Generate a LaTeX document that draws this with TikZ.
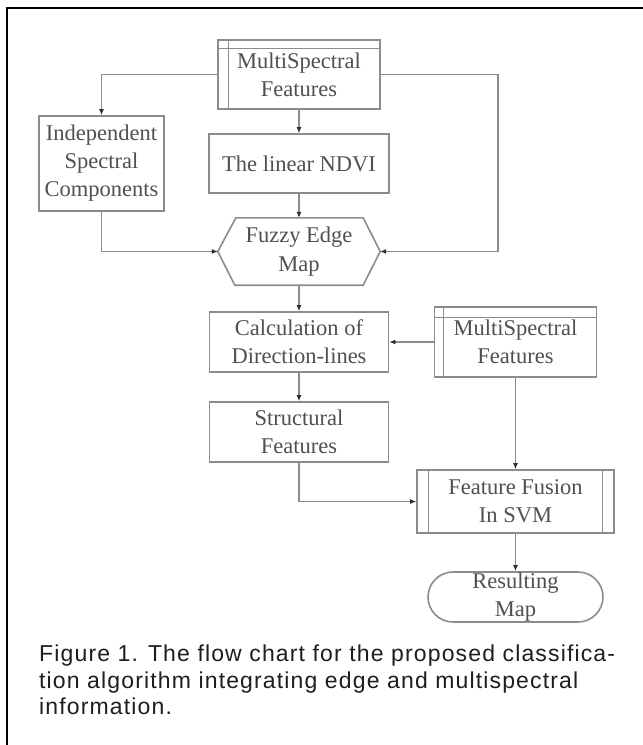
\documentclass[tikz,border=0pt]{standalone}
\usepackage{fontspec}
\setmainfont{Liberation Serif}
\newfontfamily\capfont[LetterSpace=5]{Liberation Sans}
\usetikzlibrary{arrows.meta}
\definecolor{lineC}{RGB}{140,140,140}
\definecolor{txtC}{RGB}{80,80,80}
\definecolor{tipC}{RGB}{45,45,45}
\definecolor{capC}{RGB}{30,30,30}
\begin{document}
\begin{tikzpicture}[x=1pt,y=-1pt,
  box/.style={draw=lineC, line width=1.6pt, fill=white, inner sep=0pt, align=center, text=txtC, font=\fontsize{22.5}{28}\selectfont},
  txtonly/.style={inner sep=0pt, align=center, text=txtC, font=\fontsize{22.5}{28.5}\selectfont},
  strip/.style={draw=lineC, line width=1.3pt},
  conn/.style={draw=lineC, line width=1.3pt},
  arr/.style={conn, -{Latex[length=6pt,width=5pt,color=tipC]}},
  capline/.style={anchor=base west, inner sep=0pt, text=capC, font=\capfont\fontsize{23}{26}\selectfont},
]
\useasboundingbox (0,0) rectangle (643,745);
\fill[white] (0,0) rectangle (643,745);
% frame
\draw[line width=1.6pt, black] (7,745) -- (7,8) -- (643,8);

% nodes
\node[box, minimum width=162pt, minimum height=69pt] (ms1) at (299,74.5) {MultiSpectral\\Features};
\draw[strip] ([yshift=-9pt]ms1.north west) -- ([yshift=-9pt]ms1.north east);
\draw[strip] ([xshift=11pt]ms1.north west) -- ([xshift=11pt]ms1.south west);

\node[box, minimum width=125pt, minimum height=95pt] (indep) at (101.5,163.5) {Independent\\Spectral\\Components};
\node[box, minimum width=180pt, minimum height=59pt] (ndvi) at (299,163.5) {The linear NDVI};

\node[txtonly, minimum width=162pt, minimum height=67pt] (hex) at (299,251.5) {Fuzzy Edge\\Map};
\draw[lineC, line width=1.6pt] (hex.west) -- ([xshift=18pt]hex.north west) -- ([xshift=-17pt]hex.north east) -- (hex.east) -- ([xshift=-17pt]hex.south east) -- ([xshift=17pt]hex.south west) -- cycle;

\node[box, minimum width=179pt, minimum height=60pt] (calc) at (299,342) {Calculation of\\Direction-lines};
\node[box, minimum width=179pt, minimum height=60pt] (struct) at (299,432) {Structural\\Features};

\node[box, minimum width=162pt, minimum height=70pt] (ms2) at (515.5,342) {MultiSpectral\\Features};
\draw[strip] ([yshift=-11pt]ms2.north west) -- ([yshift=-11pt]ms2.north east);
\draw[strip] ([xshift=10pt]ms2.north west) -- ([xshift=10pt]ms2.south west);

\node[box, minimum width=197pt, minimum height=63pt] (fus) at (515.5,501.5) {Feature Fusion\\In SVM};
\draw[strip] ([xshift=12.3pt]fus.north west) -- ([xshift=12.3pt]fus.south west);
\draw[strip] ([xshift=-12.3pt]fus.north east) -- ([xshift=-12.3pt]fus.south east);

\node[box, rounded corners=25pt, minimum width=175pt, minimum height=50pt] (res) at (515.5,597) {Resulting\\Map};

% connectors
\coordinate (rc) at (498,74.5);
\draw[arr] (ms1.west) -| (indep.north);
\draw[arr] (ms1.east) -- (rc) |- (hex.east);
\draw[arr] (ms1.south) -- (ndvi.north);
\draw[arr] (ndvi.south) -- (hex.north);
\draw[arr] (indep.south) |- (hex.west);
\draw[arr] (hex.south) -- (calc.north);
\draw[arr] (calc.south) -- (struct.north);
\draw[arr] (ms2.west) -- (calc.east);
\draw[arr] (struct.south) |- (fus.west);
\draw[arr] (ms2.south) -- (fus.north);
\draw[arr] (fus.south) -- (res.north);

% caption
\node[capline] (cap1) at (39,661) {Figure 1. The flow chart for the proposed classifica-};
\node[capline] (cap2) at (39,688) {tion algorithm integrating edge and multispectral};
\node[capline] (cap3) at (39,714) {information.};
\end{tikzpicture}
\end{document}
